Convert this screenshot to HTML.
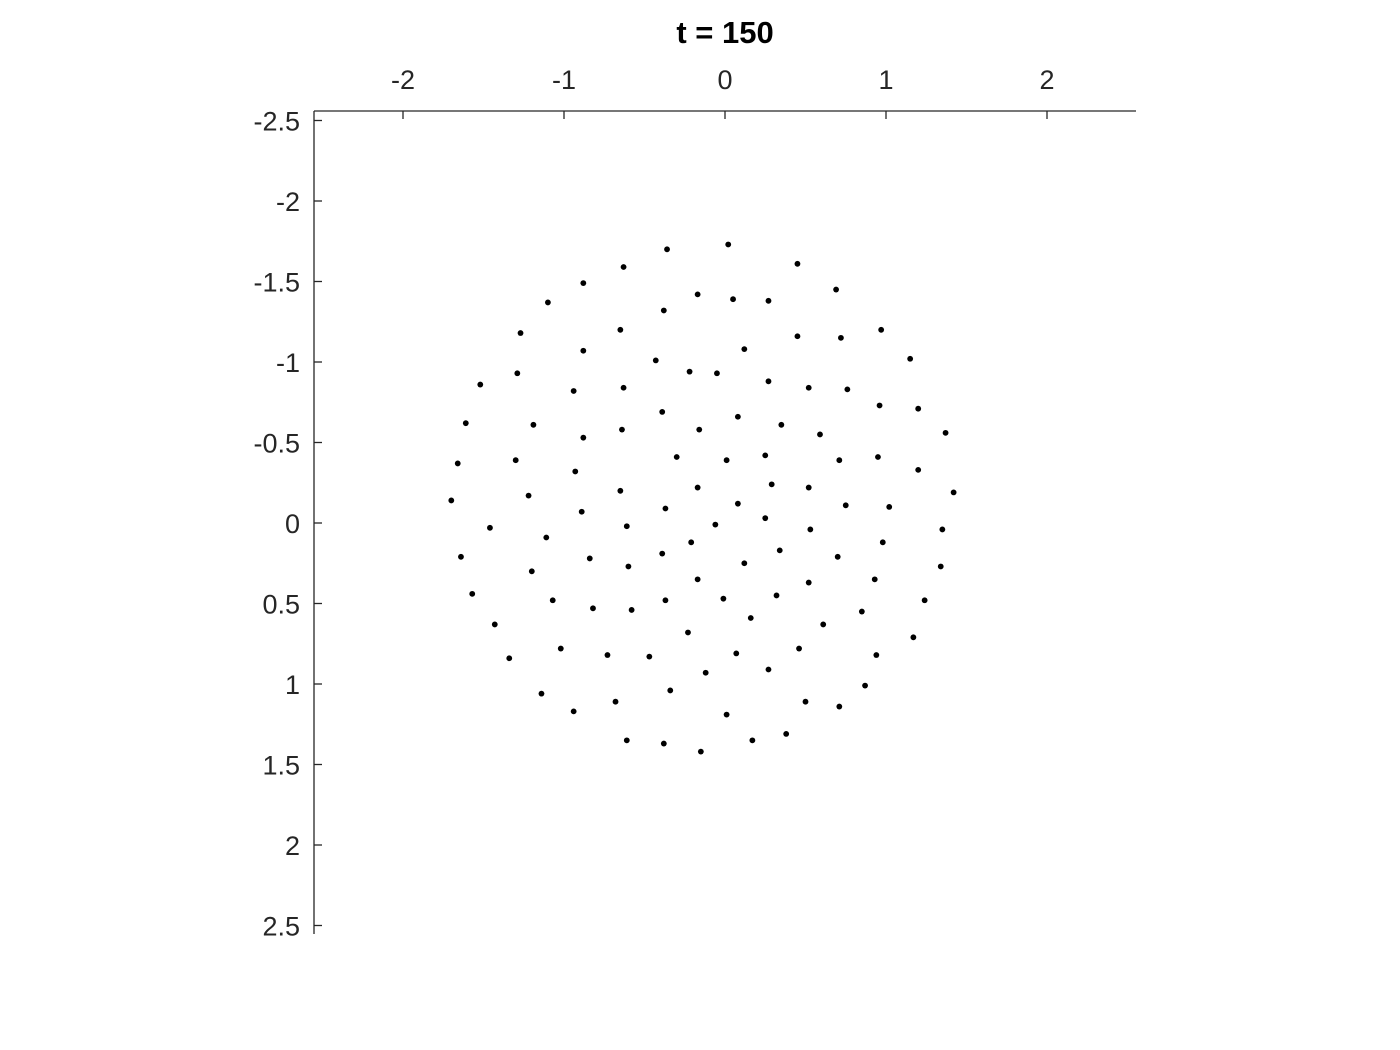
<!DOCTYPE html>
<html><head><meta charset="utf-8"><style>
html,body{margin:0;padding:0;background:#fff;}
svg{display:block;font-family:"Liberation Sans",Arial,sans-serif;}
</style></head><body>
<svg id="chart" width="1400" height="1050" viewBox="0 0 1400 1050" xmlns="http://www.w3.org/2000/svg">
<rect width="1400" height="1050" fill="#fff"/>
<text x="725" y="43" text-anchor="middle" font-size="31" font-weight="bold" fill="#000">t = 150</text>
<g id="axes"></g>
<g id="points"></g>
</svg>
<script>
const xTicks=[-2,-1,0,1,2];
const yTicks=[-2.5,-2,-1.5,-1,-0.5,0,0.5,1,1.5,2,2.5];
const xTickLabels=["-2","-1","0","1","2"];
const yTickLabels=["-2.5","-2","-1.5","-1","-0.5","0","0.5","1","1.5","2","2.5"];
const xs=[0.02,-0.36,0.45,-0.63,-0.88,0.69,-0.17,0.05,0.27,-1.10,-0.38,-0.65,0.97,-1.27,0.45,0.72,0.12,-0.88,-0.43,1.15,-0.22,-0.05,-1.29,0.27,-1.52,-0.94,-0.63,0.52,0.76,0.96,-0.39,0.08,1.20,-1.61,-1.19,0.35,-0.64,-0.16,-0.88,0.59,1.37,-0.30,0.25,-1.30,-1.66,0.01,0.95,0.71,-0.93,1.20,0.29,-0.17,-0.65,0.52,-1.22,1.42,-1.70,0.08,0.75,1.02,-0.37,-0.89,0.25,-0.06,-0.61,-1.46,0.53,1.35,-1.11,-0.21,0.98,0.34,-0.84,-0.39,0.70,-1.64,0.12,-0.60,1.34,-1.20,-0.17,0.52,0.93,0.32,-1.57,1.24,-1.07,-0.37,-0.01,-0.82,-0.58,0.85,0.16,0.61,-1.43,-0.23,1.17,-1.02,0.46,-0.73,-0.47,0.07,-1.34,0.94,0.27,-0.12,-0.34,0.87,-1.14,0.50,-0.68,0.71,-0.94,0.01,-0.61,0.17,-0.38,0.38,-0.15];
const ys=[-1.73,-1.70,-1.61,-1.59,-1.49,-1.45,-1.42,-1.39,-1.38,-1.37,-1.32,-1.20,-1.20,-1.18,-1.16,-1.15,-1.08,-1.07,-1.01,-1.02,-0.94,-0.93,-0.93,-0.88,-0.86,-0.82,-0.84,-0.84,-0.83,-0.73,-0.69,-0.66,-0.71,-0.62,-0.61,-0.61,-0.58,-0.58,-0.53,-0.55,-0.56,-0.41,-0.42,-0.39,-0.37,-0.39,-0.41,-0.39,-0.32,-0.33,-0.24,-0.22,-0.20,-0.22,-0.17,-0.19,-0.14,-0.12,-0.11,-0.10,-0.09,-0.07,-0.03,0.01,0.02,0.03,0.04,0.04,0.09,0.12,0.12,0.17,0.22,0.19,0.21,0.21,0.25,0.27,0.27,0.30,0.35,0.37,0.35,0.45,0.44,0.48,0.48,0.48,0.47,0.53,0.54,0.55,0.59,0.63,0.63,0.68,0.71,0.78,0.78,0.82,0.83,0.81,0.84,0.82,0.91,0.93,1.04,1.01,1.06,1.11,1.11,1.14,1.17,1.19,1.35,1.35,1.37,1.31,1.42];

const NS="http://www.w3.org/2000/svg";
const X0=725,Y0=523,S=161;
const sx=v=>X0+v*S, sy=v=>Y0+v*S;
const axL=314,axR=1136,axT=111,axB=934;
const axes=document.getElementById('axes');
function mk(tag,attrs,parent){const e=document.createElementNS(NS,tag);for(const k in attrs)e.setAttribute(k,attrs[k]);parent.appendChild(e);return e;}
const xl=mk('line',{x1:axL,y1:axT,x2:axR,y2:axT,stroke:'#262626','stroke-width':1.3},axes);


const yl=mk('line',{x1:axL,y1:axT,x2:axL,y2:axB,stroke:'#262626','stroke-width':1.3},axes);


xTicks.forEach((t,i)=>{
  const tk=mk('line',{x1:sx(t),y1:axT,x2:sx(t),y2:axT+8,stroke:'#262626','stroke-width':1.3},axes);
  
  
  const tx=mk('text',{x:sx(t),y:89,'text-anchor':'middle','font-size':27,fill:'#262626'},axes);
  tx.textContent=xTickLabels[i];
  
  
});
yTicks.forEach((t,i)=>{
  const tk=mk('line',{x1:axL,y1:sy(t),x2:axL+8,y2:sy(t),stroke:'#262626','stroke-width':1.3},axes);
  
  
  const tx=mk('text',{x:300,y:sy(t)+10,'text-anchor':'end','font-size':27,fill:'#262626'},axes);
  tx.textContent=yTickLabels[i];
  
  
});
const pg=document.getElementById('points');
xs.forEach((x,i)=>{
  const c=mk('circle',{cx:sx(x),cy:sy(ys[i]),r:2.9,fill:'#000'},pg);
  
  
});
</script>
</body></html>
